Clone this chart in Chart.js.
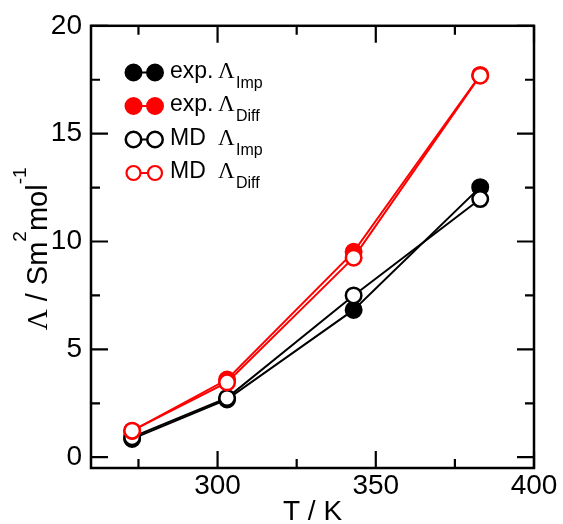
<!DOCTYPE html>
<html>
<head>
<meta charset="utf-8">
<script src="https://cdn.jsdelivr.net/npm/chart.js@4.4.1/dist/chart.umd.min.js"></script>
<style>
html,body{margin:0;padding:0;background:#fff;}
#wrap{position:relative;width:563px;height:524px;}
</style>
</head>
<body>
<div id="wrap"><canvas id="c" width="563" height="524"></canvas></div>
<script>
// ---- data ----
const temperatures = [273, 303, 343, 383];
const expImp  = [0.85, 2.68, 6.83, 12.52];
const expDiff = [1.22, 3.60, 9.52, 17.72];
const mdImp   = [0.93, 2.75, 7.50, 11.97];
const mdDiff  = [1.23, 3.47, 9.25, 17.69];
const xTickLabels = [300, 350, 400];
const yTickLabels = [0, 5, 10, 15, 20];
const xMinorTicks = [275, 325, 375];
const yMinorTicks = [2.5, 7.5, 12.5, 17.5];
const legendNames = ['exp. ', 'exp. ', 'MD  ', 'MD  '];
const legendSubs = ['Imp', 'Diff', 'Imp', 'Diff'];

const RED = '#ff0000';
const SANS = '"Liberation Sans", Arial, sans-serif';
const SERIF = '"Liberation Serif", "Times New Roman", serif';

function pts(vals){ return temperatures.map((t,i)=>({x:t, y:vals[i]})); }

const styles = [
  {color:'#000', fill:'#000', r:8, bw:2, order:4},
  {color:RED, fill:RED, r:8, bw:2, order:2},
  {color:'#000', fill:'#fff', r:7.75, bw:2.5, order:3},
  {color:RED, fill:'#fff', r:7.75, bw:2.5, order:1}
];
const series = [expImp, expDiff, mdImp, mdDiff];

const datasets = series.map((s,i)=>({
  label: legendNames[i] + 'Λ' + legendSubs[i],
  data: pts(s),
  borderColor: styles[i].color,
  backgroundColor: styles[i].fill,
  borderWidth: 2,
  pointRadius: styles[i].r,
  pointBorderWidth: styles[i].bw,
  pointBackgroundColor: styles[i].fill,
  pointBorderColor: styles[i].color,
  pointHoverRadius: styles[i].r,
  tension: 0,
  order: styles[i].order,
  clip: false
}));

const framePlugin = {
  id: 'frame',
  afterDraw(chart){
    const ctx = chart.ctx, a = chart.chartArea;
    const xs = chart.scales.x, ys = chart.scales.y;
    ctx.save();
    ctx.strokeStyle = '#000';
    ctx.lineWidth = 2.5;
    ctx.lineCap = 'butt';
    ctx.strokeRect(a.left, a.top, a.right - a.left, a.bottom - a.top);
    ctx.lineWidth = 2.2;
    const MAJ = 17, MIN = 9;
    function xt(v, len){
      const px = xs.getPixelForValue(v);
      ctx.beginPath();
      ctx.moveTo(px, a.bottom); ctx.lineTo(px, a.bottom - len);
      ctx.moveTo(px, a.top); ctx.lineTo(px, a.top + len);
      ctx.stroke();
    }
    function yt(v, len){
      const py = ys.getPixelForValue(v);
      ctx.beginPath();
      ctx.moveTo(a.left, py); ctx.lineTo(a.left + len, py);
      ctx.moveTo(a.right, py); ctx.lineTo(a.right - len, py);
      ctx.stroke();
    }
    xTickLabels.forEach(v=>xt(v, MAJ));
    xMinorTicks.forEach(v=>xt(v, MIN));
    yTickLabels.forEach(v=>yt(v, MAJ));
    yMinorTicks.forEach(v=>yt(v, MIN));

    // legend
    const rows = [72.5, 106, 139.5, 173];
    const c1 = 133.5, c2 = 155;
    rows.forEach((cy, i)=>{
      const st = styles[i];
      let r = st.r, bw = st.bw;
      if (i === 3) { r = 7.0; bw = 2.2; }
      ctx.strokeStyle = st.color; ctx.lineWidth = 2;
      ctx.beginPath(); ctx.moveTo(c1, cy); ctx.lineTo(c2, cy); ctx.stroke();
      [c1, c2].forEach(cx=>{
        ctx.beginPath(); ctx.arc(cx, cy, r, 0, Math.PI*2);
        ctx.fillStyle = st.fill; ctx.fill();
        ctx.lineWidth = bw; ctx.strokeStyle = st.color; ctx.stroke();
      });
      const base = cy + 5;
      ctx.fillStyle = '#000';
      ctx.textBaseline = 'alphabetic';
      ctx.textAlign = 'left';
      ctx.font = '23px ' + SANS;
      ctx.fillText(legendNames[i].trim(), 170, base);
      ctx.font = '23px ' + SERIF;
      ctx.fillText('Λ', 218, base);
      ctx.font = '16px ' + SANS;
      ctx.fillText(legendSubs[i], 236, base + 10);
    });

    // y axis title with superscripts
    const parts = [
      {t:'Λ', f:'29px ' + SERIF, dy:0},
      {t:' / Sm', f:'29px ' + SANS, dy:0},
      {t:'2', f:'19px ' + SANS, dy:-21},
      {t:'mol', f:'29px ' + SANS, dy:0},
      {t:'-1', f:'19px ' + SANS, dy:-21}
    ];
    let total = 0;
    parts.forEach(p=>{ ctx.font = p.f; p.w = ctx.measureText(p.t).width; total += p.w; });
    ctx.translate(47, (a.top + a.bottom)/2 + 2);
    ctx.rotate(-Math.PI/2);
    let x = -total/2;
    parts.forEach(p=>{ ctx.font = p.f; ctx.fillText(p.t, x, p.dy); x += p.w; });
    ctx.restore();
  }
};

new Chart(document.getElementById('c'), {
  type: 'scatter',
  data: { datasets },
  options: {
    responsive: false,
    animation: false,
    showLine: true,
    layout: { padding: { left: 0, right: 29, top: 24, bottom: 0 } },
    plugins: { legend: { display: false }, tooltip: { enabled: false } },
    scales: {
      x: {
        type: 'linear', min: 260, max: 400,
        afterBuildTicks: s => { s.ticks = xTickLabels.map(v=>({value:v})); },
        afterFit: s => { s.height = 56; },
        grid: { display: false, drawTicks: false },
        border: { display: false },
        ticks: { color: '#000', font: { size: 28, family: SANS }, padding: 1, maxRotation: 0, autoSkip: false },
        title: { display: true, text: 'T / K', color: '#000', font: { size: 28, family: SANS, lineHeight: 0.85 }, padding: 0 }
      },
      y: {
        type: 'linear', min: -0.5, max: 20,
        afterBuildTicks: s => { s.ticks = yTickLabels.map(v=>({value:v})); },
        afterFit: s => { s.width = 91; },
        grid: { display: false, drawTicks: false },
        border: { display: false },
        ticks: { color: '#000', font: { size: 28, family: SANS }, padding: 9, autoSkip: false }
      }
    }
  },
  plugins: [framePlugin]
});
</script>
</body>
</html>
